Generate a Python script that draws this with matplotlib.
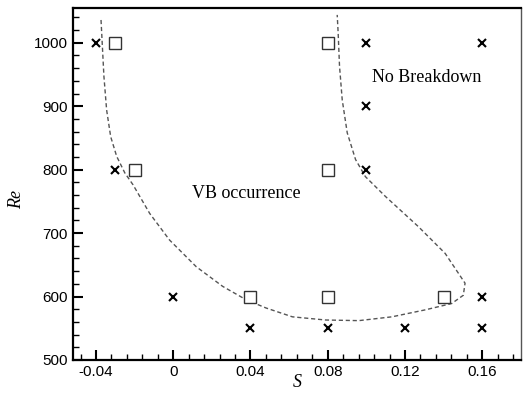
import matplotlib
matplotlib.use("Agg")
import matplotlib.pyplot as plt
from matplotlib.ticker import MultipleLocator, FixedFormatter, FixedLocator

# cases where breakdown does not occur (x) and where it occurs (squares)
no_vb_s = [-0.04, -0.03, 0.0, 0.04, 0.08, 0.12, 0.16, 0.16, 0.10, 0.10, 0.10, 0.16]
no_vb_re = [1000, 800, 600, 550, 550, 550, 550, 600, 800, 900, 1000, 1000]
vb_s = [-0.03, -0.02, 0.04, 0.08, 0.08, 0.08, 0.14]
vb_re = [1000, 800, 600, 600, 800, 1000, 600]

# dashed boundary
bound_s = [-0.0374, -0.0368, -0.0359, -0.0345, -0.0324, -0.0293, -0.0251, -0.0208,
           -0.0122, -0.0019, 0.0119, 0.0256, 0.0377, 0.0480, 0.0617, 0.0789,
           0.0961, 0.1132, 0.1305, 0.1442, 0.1502, 0.1511, 0.1476, 0.1408,
           0.1270, 0.1098, 0.0995, 0.0944, 0.0901, 0.0875, 0.0861, 0.0854, 0.0849]
bound_re = [1036, 1000, 947, 894, 852, 821, 795, 776,
            731, 689, 647, 616, 595, 582, 568, 563,
            562, 568, 579, 589, 602, 621, 637, 668,
            710, 758, 789, 816, 858, 910, 963, 1015, 1044]

xticks = [-0.04, 0, 0.04, 0.08, 0.12, 0.16]
xticklabels = ["-0.04", "0", "0.04", "0.08", "0.12", "0.16"]

plt.rcParams['font.family'] = 'Liberation Sans'
fig = plt.figure(figsize=(5.24, 3.96), dpi=100)
ax = fig.add_axes([0.139, 0.091, 0.855, 0.889])

ax.plot(bound_s, bound_re, color="#555555", lw=1, ls=(0, (3, 2)))
ax.plot(no_vb_s, no_vb_re, ls="none", marker="x", ms=6, mew=1.5, color="black")
ax.plot(vb_s, vb_re, ls="none", marker="s", ms=8.5, mfc="white", mec="#333333", mew=1)

ax.text(0.0376, 763, "VB occurrence", family="Liberation Serif", fontsize=13,
        ha="center", va="center")
ax.text(0.131, 946, "No Breakdown", family="Liberation Serif", fontsize=13,
        ha="center", va="center")

ax.set_xlim(-0.052, 0.18)
ax.set_ylim(500, 1055)
ax.xaxis.set_major_locator(FixedLocator(xticks))
ax.xaxis.set_major_formatter(FixedFormatter(xticklabels))
ax.xaxis.set_minor_locator(MultipleLocator(0.008))
ax.yaxis.set_major_locator(MultipleLocator(100))
ax.yaxis.set_minor_locator(MultipleLocator(20))
ax.tick_params(which="major", direction="in", length=7, width=1.5, labelsize=11)
ax.tick_params(which="minor", direction="in", length=4, width=1)

for side in ["left", "bottom", "top"]:
    ax.spines[side].set_linewidth(1.6)
ax.spines["right"].set_linewidth(1)
ax.spines["right"].set_color("#555555")

ax.set_xlabel("S", family="Liberation Serif", style="italic", fontsize=13, va="center")
ax.set_ylabel("Re", family="Liberation Serif", style="italic", fontsize=13)
ax.xaxis.set_label_coords(0.5, -0.065)
ax.yaxis.set_label_coords(-0.107, 0.455)

fig.savefig("out.png", dpi=100)
